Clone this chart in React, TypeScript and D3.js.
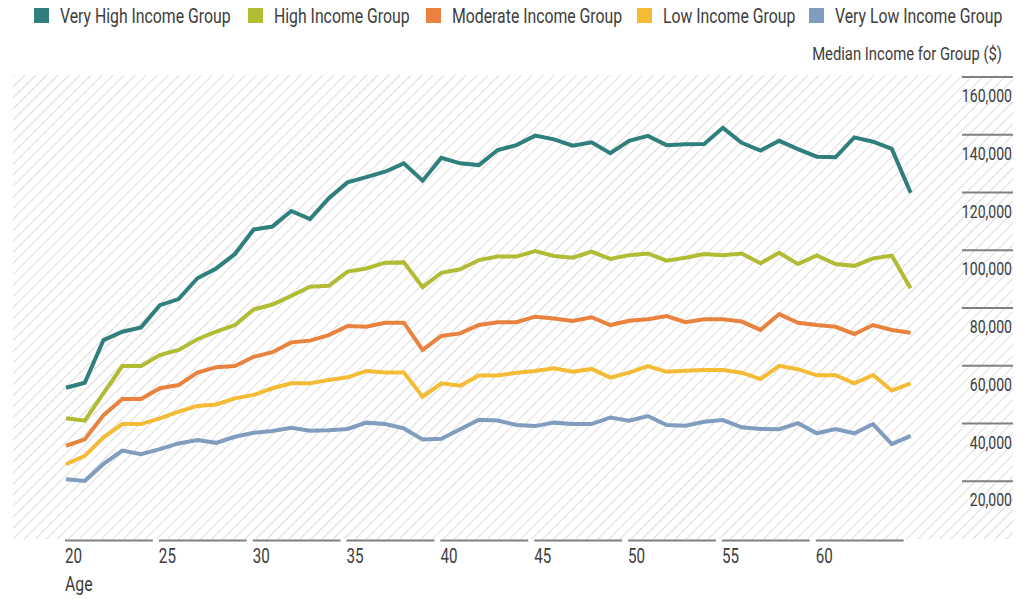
import React from "react";
import * as d3 from "d3";

const ages = d3.range(20, 66);

const veryHigh = [52400, 54100, 68900, 71800, 73300, 81000, 83100, 90300, 93700, 98700, 107200, 108200, 113600, 110800, 118000, 123500, 125300, 127200, 130100, 124100, 132000, 130100, 129500, 134700, 136400, 139700, 138400, 136200, 137400, 133600, 137900, 139600, 136400, 136700, 136800, 142400, 137200, 134500, 137900, 135000, 132400, 132200, 139100, 137600, 135100, 119900];
const high = [41800, 41000, 50500, 59900, 59900, 63700, 65500, 69200, 71800, 74100, 79500, 81200, 84200, 87400, 87700, 92600, 93700, 95700, 95800, 87200, 92200, 93400, 96600, 97800, 97800, 99700, 98000, 97400, 99500, 97000, 98300, 98900, 96400, 97400, 98700, 98300, 98900, 95500, 99100, 95200, 98200, 95200, 94600, 97200, 98100, 86800];
const moderate = [32300, 34500, 42900, 48500, 48500, 52200, 53300, 57600, 59500, 59900, 63100, 64700, 68100, 68700, 70600, 73800, 73500, 74900, 74900, 65500, 70300, 71200, 74100, 75100, 75100, 77000, 76400, 75500, 76800, 74100, 75600, 76100, 77200, 75100, 76100, 76100, 75300, 72400, 77900, 74900, 74100, 73500, 71000, 74100, 72400, 71400];
const low = [25900, 28800, 35200, 39800, 39800, 41800, 44100, 46100, 46600, 48700, 49900, 52200, 53900, 53900, 55100, 56000, 58200, 57700, 57700, 49300, 53900, 53100, 56600, 56600, 57600, 58200, 59100, 57900, 58900, 55900, 57600, 59900, 57900, 58300, 58500, 58500, 57600, 55400, 60000, 58800, 56700, 56700, 53900, 56800, 51400, 53900];
const veryLow = [20700, 20100, 26000, 30600, 29400, 31100, 33100, 34300, 33300, 35400, 36800, 37400, 38500, 37500, 37700, 38100, 40300, 39800, 38300, 34500, 34700, 38000, 41300, 41000, 39500, 39100, 40300, 39800, 39800, 42100, 41000, 42600, 39500, 39200, 40600, 41200, 38700, 38100, 38000, 40100, 36600, 38100, 36600, 39800, 32900, 35700];

const seriesNames = ["Very High Income Group", "High Income Group", "Moderate Income Group", "Low Income Group", "Very Low Income Group"];
const seriesValues = [veryHigh, high, moderate, low, veryLow];
const seriesColors = ["#2f7f7d", "#b1bb34", "#e9823e", "#f4bb35", "#809cbf"];

const xTicks = [20, 25, 30, 35, 40, 45, 50, 55, 60];
const yTicks = [20000, 40000, 60000, 80000, 100000, 120000, 140000, 160000];

const FONT = "Roboto, 'Liberation Sans', sans-serif";
const TEXT = "#3c3c3c";

function CText(props: { x: number; y: number; size: number; sx: number; anchor?: string; children: React.ReactNode }) {
  const { x, y, size, sx, anchor, children } = props;
  return (
    <text
      transform={`translate(${x},${y}) scale(${sx},1)`}
      fontSize={size}
      fill={TEXT}
      textAnchor={anchor || "start"}
    >
      {children}
    </text>
  );
}

export default function App() {
  const x = d3.scaleLinear().domain([20, 65]).range([66, 910.6]);
  const y = d3.scaleLinear().domain([0, 160000]).range([539, 77]);
  const line = d3
    .line<number>()
    .x((_, i) => x(ages[i]))
    .y((v) => y(v));
  const fmt = d3.format(",");
  const legendX = [34, 248, 426, 637, 809];
  const WORD = 0.79;
  const NUM = 0.76;

  return (
    <svg
      width={1034}
      height={599}
      style={{ position: "absolute", left: 0, top: 0, background: "#fff" }}
      fontFamily={FONT}
    >
      <defs>
        <pattern id="hatch" patternUnits="userSpaceOnUse" width={7.8} height={7.8} patternTransform="rotate(45)">
          <line x1={0} y1={0} x2={0} y2={7.8} stroke="#d9d9d9" strokeWidth={1.8} />
        </pattern>
      </defs>
      <rect x={13} y={75} width={1000} height={464} fill="url(#hatch)" />

      {seriesNames.map((n, i) => (
        <g key={n}>
          <rect x={legendX[i]} y={8} width={15} height={15} fill={seriesColors[i]} />
          <CText x={legendX[i] + 26} y={23} size={20} sx={WORD}>
            {n}
          </CText>
        </g>
      ))}
      <CText x={1002} y={60} size={19} sx={0.78} anchor="end">
        Median Income for Group ($)
      </CText>

      {yTicks.map((t) => (
        <g key={t}>
          <line x1={962} x2={1013} y1={y(t)} y2={y(t)} stroke="#808080" strokeWidth={1.8} />
          <CText x={1012} y={y(t) + 25} size={18.5} sx={NUM} anchor="end">
            {fmt(t)}
          </CText>
        </g>
      ))}

      {xTicks.map((t) => (
        <g key={t}>
          <line x1={x(t) - 1} x2={x(t + 5) - 7} y1={540.5} y2={540.5} stroke="#808080" strokeWidth={1.8} />
          <CText x={x(t) - 1} y={563} size={20} sx={NUM}>
            {t}
          </CText>
        </g>
      ))}
      <CText x={65} y={591} size={20} sx={WORD}>
        Age
      </CText>

      {seriesValues.map((vals, i) => (
        <path
          key={seriesNames[i]}
          d={line(vals) || ""}
          fill="none"
          stroke={seriesColors[i]}
          strokeWidth={4}
          strokeLinejoin="miter"
        />
      ))}
    </svg>
  );
}
